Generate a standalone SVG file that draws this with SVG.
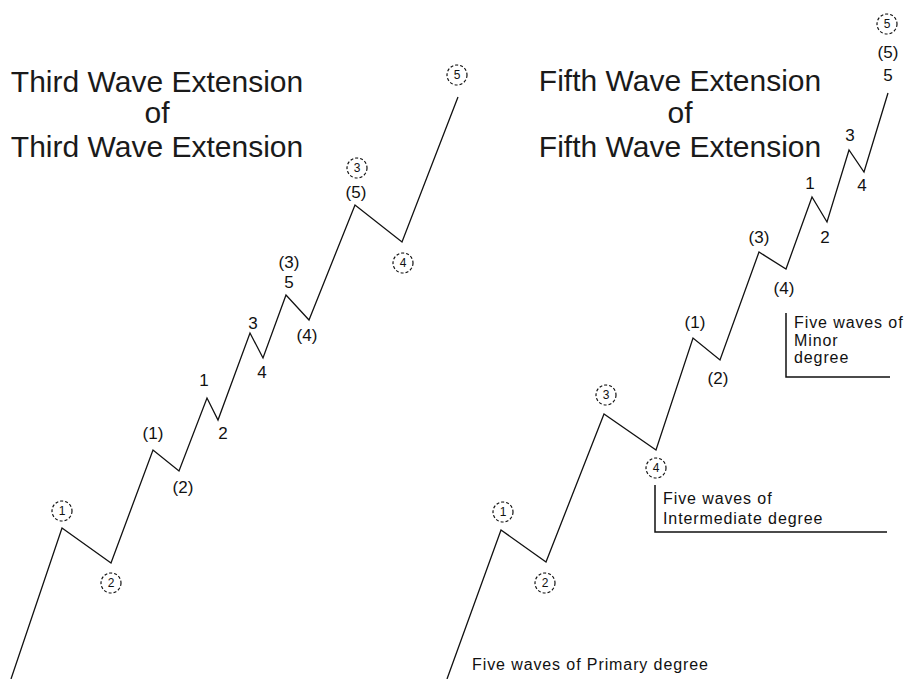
<svg xmlns="http://www.w3.org/2000/svg" width="905" height="679" viewBox="0 0 905 679">
<style>
.title{font-family:"Liberation Sans",Arial,sans-serif;font-size:30px;fill:#1a1a1a;text-anchor:middle}
.lbl{font-family:"Liberation Sans",Arial,sans-serif;font-size:17px;fill:#111;text-anchor:middle}
.clbl{font-family:"Liberation Sans",Arial,sans-serif;font-size:12px;fill:#111;text-anchor:middle}
.circ{fill:none;stroke:#111;stroke-width:1.2;stroke-dasharray:3 2}
.note{font-family:"Liberation Sans",Arial,sans-serif;font-size:16px;fill:#111;letter-spacing:0.9px}
.wave{fill:none;stroke:#111;stroke-width:1.3;stroke-linejoin:miter}
.brk{fill:none;stroke:#111;stroke-width:1.5}
</style>
<rect width="905" height="679" fill="#fff"/>
<g id="title-left">
<text class="title" x="157" y="92">Third Wave Extension</text>
<text class="title" x="157" y="123">of</text>
<text class="title" x="157" y="157">Third Wave Extension</text>
</g>
<g id="title-right">
<text class="title" x="680" y="91">Fifth Wave Extension</text>
<text class="title" x="680" y="123">of</text>
<text class="title" x="680" y="157">Fifth Wave Extension</text>
</g>
<g id="connectors">
<polyline class="wave" points="11,679 62,528 111,563 153,450 179,471 207,398 218,420 250,333 263,358 286,295 309,320 355,205 402,242 458,97"/>
<polyline class="wave" points="447,679 501,530 546,562 604,414 656,450 693,338 720,360 759,252 786,269 812,197 827,222 849,150 864,172 888,93"/>
<polyline class="brk" points="655,485 655,532 887,532"/>
<polyline class="brk" points="786,313 786,377 890,377"/>
</g>
<g id="left-labels">
<g id="L-c1"><circle class="circ" cx="62" cy="511" r="10"/><text class="clbl" x="62" y="515">1</text></g>
<g id="L-c2"><circle class="circ" cx="111" cy="583" r="10"/><text class="clbl" x="111" y="587">2</text></g>
<g id="L-p1"><text class="lbl" x="153" y="439">(1)</text></g>
<g id="L-p2"><text class="lbl" x="183" y="493">(2)</text></g>
<g id="L-n1"><text class="lbl" x="204" y="386">1</text></g>
<g id="L-n2"><text class="lbl" x="223" y="439">2</text></g>
<g id="L-n3"><text class="lbl" x="253" y="329">3</text></g>
<g id="L-n4"><text class="lbl" x="262" y="378">4</text></g>
<g id="L-p3"><text class="lbl" x="289" y="268">(3)</text></g>
<g id="L-n5"><text class="lbl" x="289" y="288">5</text></g>
<g id="L-p4"><text class="lbl" x="307" y="341">(4)</text></g>
<g id="L-c3"><circle class="circ" cx="357" cy="168" r="10"/><text class="clbl" x="357" y="172">3</text></g>
<g id="L-p5"><text class="lbl" x="356" y="198">(5)</text></g>
<g id="L-c4"><circle class="circ" cx="403" cy="263" r="10"/><text class="clbl" x="403" y="267">4</text></g>
<g id="L-c5"><circle class="circ" cx="457" cy="75" r="10"/><text class="clbl" x="457" y="79">5</text></g>
</g>
<g id="right-labels">
<g id="R-c1"><circle class="circ" cx="503" cy="512" r="10"/><text class="clbl" x="503" y="516">1</text></g>
<g id="R-c2"><circle class="circ" cx="545" cy="583" r="10"/><text class="clbl" x="545" y="587">2</text></g>
<g id="R-c3"><circle class="circ" cx="606" cy="395" r="10"/><text class="clbl" x="606" y="399">3</text></g>
<g id="R-c4"><circle class="circ" cx="656" cy="468" r="10"/><text class="clbl" x="656" y="472">4</text></g>
<g id="R-p1"><text class="lbl" x="695" y="328">(1)</text></g>
<g id="R-p2"><text class="lbl" x="718" y="384">(2)</text></g>
<g id="R-p3"><text class="lbl" x="759" y="243">(3)</text></g>
<g id="R-p4"><text class="lbl" x="784" y="294">(4)</text></g>
<g id="R-n1"><text class="lbl" x="810" y="189">1</text></g>
<g id="R-n2"><text class="lbl" x="825" y="243">2</text></g>
<g id="R-n3"><text class="lbl" x="850" y="141">3</text></g>
<g id="R-n4"><text class="lbl" x="862" y="191">4</text></g>
<g id="R-n5"><text class="lbl" x="888" y="81">5</text></g>
<g id="R-p5"><text class="lbl" x="888" y="58">(5)</text></g>
<g id="R-c5"><circle class="circ" cx="887" cy="24" r="10"/><text class="clbl" x="887" y="28">5</text></g>
</g>
<g id="notes">
<g id="note-minor"><text class="note" x="794" y="328">Five waves of</text><text class="note" x="794" y="346">Minor</text><text class="note" x="794" y="363">degree</text></g>
<g id="note-intermediate"><text class="note" x="663" y="504">Five waves of</text><text class="note" x="663" y="524">Intermediate degree</text></g>
<g id="note-primary"><text class="note" x="472" y="670">Five waves of Primary degree</text></g>
</g>
</svg>
